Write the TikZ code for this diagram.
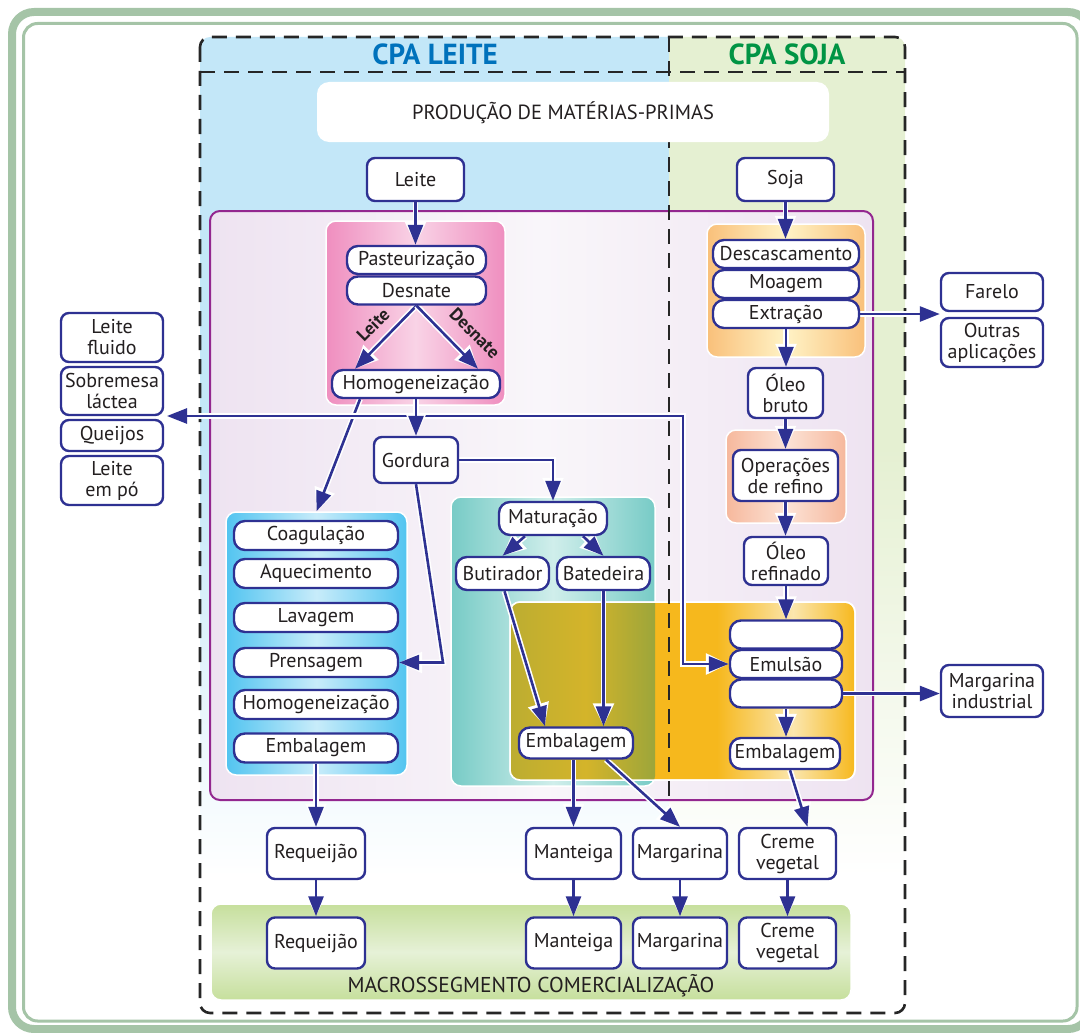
\documentclass[tikz,border=0pt]{standalone}
\usepackage{fontspec}
\setmainfont{PT Sans}
\usetikzlibrary{arrows.meta}

\definecolor{nblue}{HTML}{2E3192}
\definecolor{txt}{HTML}{231F20}
\definecolor{framecol}{HTML}{A5C4A7}
\definecolor{colblue}{HTML}{C3E7F8}
\definecolor{colgreen}{HTML}{E5F0D2}
\definecolor{purp}{HTML}{93278F}
\definecolor{purpE}{HTML}{EEE3F1}
\definecolor{purpC}{HTML}{F9F6FA}
\definecolor{cpablue}{HTML}{0072BC}
\definecolor{cpagreen}{HTML}{009444}
\definecolor{pinkE}{HTML}{EF8EBF}
\definecolor{pinkC}{HTML}{F9D3E6}
\definecolor{skyE}{HTML}{52C4F0}
\definecolor{skyC}{HTML}{C8ECFA}
\definecolor{tealE}{HTML}{77CBC6}
\definecolor{tealC}{HTML}{D0EEEB}
\definecolor{sojaE}{HTML}{F9C07A}
\definecolor{sojaC}{HTML}{FFF3C6}
\definecolor{salmE}{HTML}{F6B89C}
\definecolor{salmC}{HTML}{FCE3D7}
\definecolor{orgA}{HTML}{F6B81D}
\definecolor{orgL}{HTML}{FBE6AE}
\definecolor{oliveL}{HTML}{BCAD31}
\definecolor{oliveC}{HTML}{D4B42A}
\definecolor{oliveR}{HTML}{97A43C}
\definecolor{mktE}{HTML}{C6DF9C}
\definecolor{mktC}{HTML}{E6F1D7}

% column backgrounds: solid at the top, fading to white towards the bottom
\pgfdeclareverticalshading{bluefade}{100bp}{color(0bp)=(white); color(32bp)=(white); color(54bp)=(colblue); color(100bp)=(colblue)}
\pgfdeclareverticalshading{greenfade}{100bp}{color(0bp)=(white); color(32bp)=(white); color(54bp)=(colgreen); color(100bp)=(colgreen)}
% emulsion panel: orange, lighter around the emulsion column
\pgfdeclarehorizontalshading{emulfill}{100bp}{color(0bp)=(orgA); color(55bp)=(orgA); color(66bp)=(orgL); color(75bp)=(orgA); color(100bp)=(orgA)}

\pgfdeclarelayer{bg}
\pgfdeclarelayer{edges}
\pgfsetlayers{bg,edges,main}

\newcommand\bxfont{\fontsize{20}{21}\selectfont}

\tikzset{
  box/.style={draw=nblue, line width=2.4pt, fill=white, rounded corners=8pt, align=center, text=txt, inner sep=0pt, font=\bxfont},
  pill/.style={box, rounded corners=11pt},
  sz/.style 2 args={minimum width=#1pt, minimum height=#2pt},
  panel/.style={draw=white, line width=1.5pt, rounded corners=10pt, inner sep=0pt},
  tip/.tip={Triangle[length=20pt,width=15pt]},
  halo/.tip={Triangle[length=23pt,width=20pt]},
  conn/.style={draw=nblue, line width=2.6pt, -{tip}, preaction={draw=white, line width=5.8pt, -{halo}}},
  conntwo/.style={draw=nblue, line width=2.6pt, {tip}-{tip}, preaction={draw=white, line width=5.8pt, {halo}-{halo}}},
  lbl/.style={font=\fontsize{18}{18}\selectfont\bfseries, text=txt, inner sep=0pt},
  title/.style={font=\fontsize{29}{29}\selectfont\bfseries, inner sep=0pt},
  dashline/.style={draw=black!85, line width=2.6pt, dash pattern=on 15pt off 9pt}
}

\begin{document}
\begin{tikzpicture}[x=1pt,y=-1pt]
\useasboundingbox (0,0) rectangle (1080,1033);

\begin{pgfonlayer}{bg}
  % double frame
  \draw[framecol, line width=8pt, rounded corners=22pt] (12,12) rectangle (1090,1029);
  \draw[framecol, line width=3pt, rounded corners=14pt] (23.5,23.5) rectangle (1077,1021);

  % chain columns
  \shade[shading=bluefade] (435,37) [rounded corners=10pt] -- (200,37) -- (200,1013) -- (435,1013) [sharp corners] -- (669,1013) -- (669,37) -- cycle;
  \shade[shading=greenfade] (787,37) [rounded corners=10pt] -- (905,37) -- (905,1013) -- (787,1013) [sharp corners] -- (669,1013) -- (669,37) -- cycle;

  % industrial segment
  \node[draw=purp, line width=2pt, rounded corners=10pt, left color=purpE, right color=purpE, middle color=purpC, sz={663}{589}, inner sep=0pt] (indus) at (541.5,505.5) {};

  % process panels
  \node[panel, left color=pinkE, right color=pinkE, middle color=pinkC, sz={179}{184}] (pinkpanel) at (415.5,313) {};
  \node[panel, left color=skyE, right color=skyE, middle color=skyC, sz={181}{263}] (bluepanel) at (316.5,643.5) {};
  \node[panel, left color=tealE, right color=tealE, middle color=tealC, sz={204}{289}] (tealpanel) at (553,641.5) {};
  \node[panel, left color=sojaE, right color=sojaE, middle color=sojaC, sz={158}{133}] (sojapanel) at (786,290.5) {};
  \node[panel, left color=salmE, right color=salmE, middle color=salmC, sz={120}{93}] (salmpanel) at (786,476.5) {};
  \node[panel, shading=emulfill, sz={345}{178}] (orgpanel) at (682.5,691) {};
  \begin{scope}
    \clip[rounded corners=10pt] (451,497) rectangle (655,786);
    \shade[left color=oliveL, right color=oliveR, middle color=oliveC, rounded corners=10pt] (510,602) rectangle (662,780);
  \end{scope}
  \draw[white, line width=1.5pt, rounded corners=10pt] (510,602) rectangle (855,780);

  % trade segment
  \node[panel, top color=mktE, bottom color=mktE, middle color=mktC, sz={640}{96}] (mktpanel) at (531,952) {};

  % dashed chain outline
  \draw[dashline, rounded corners=10pt] (200,37) rectangle (905,1013);
  \draw[dashline] (200,72) -- (905,72);
  \draw[dashline] (669,37) -- (669,805);
\end{pgfonlayer}

% headings
\node[title, text=cpablue] (cpaleite) at (435,54) {CPA LEITE};
\node[title, text=cpagreen] (cpasoja) at (787,54) {CPA SOJA};
\node[fill=white, rounded corners=12pt, sz={512}{60}, inner sep=0pt] (prodbox) at (573,112) {};
\node[font=\fontsize{20.5}{20.5}\selectfont, text=txt, inner sep=0pt] (prodtxt) at (563,113) {PRODUÇÃO DE MATÉRIAS-PRIMAS};

% raw materials
\node[box, sz={97}{43}] (leite) at (415.5,179.5) {Leite};
\node[box, sz={97}{43}] (soja) at (785.5,179.5) {Soja};

% milk reception
\node[pill, sz={139}{28}] (past) at (416.5,260) {Pasteurização};
\node[pill, sz={139}{28}] (desn) at (416.5,290.5) {Desnate};
\node[pill, sz={168}{28}] (homoA) at (416,384) {Homogeneização};
\node[lbl, rotate=45] (lblleite) at (373,325) {Leite};
\node[lbl, rotate=-45] (lbldesn) at (475,333) {Desnate};

% dairy products
\node[box, sz={102}{49}] (lfluido) at (112,337.5) {Leite\\fluido};
\node[box, sz={102}{48}] (sobrem) at (112,391) {Sobremesa\\láctea};
\node[box, sz={102}{31}] (queijos) at (112,435.5) {Queijos};
\node[box, sz={102}{49}] (lpo) at (112,480.5) {Leite\\em pó};

\node[box, sz={84}{46}] (gordura) at (416,460) {Gordura};

% curd cheese line
\node[pill, sz={164}{29}] (coag) at (316,535.5) {Coagulação};
\node[pill, sz={164}{29}] (aquec) at (316,573.5) {Aquecimento};
\node[pill, sz={164}{29}] (lavag) at (316,617.5) {Lavagem};
\node[pill, sz={164}{29}] (prens) at (316,662.5) {Prensagem};
\node[pill, sz={164}{29}] (homoB) at (316,704.5) {Homogeneização};
\node[pill, sz={164}{29}] (embA) at (316,748) {Embalagem};

% butter line
\node[pill, sz={108}{33}] (matur) at (553,518.5) {Maturação};
\node[pill, sz={93}{33}] (butir) at (502.5,573.5) {Butirador};
\node[pill, sz={93}{33}] (bated) at (603.5,573.5) {Batedeira};
\node[pill, sz={114}{31}] (embB) at (576,743) {Embalagem};

% soybean line
\node[pill, sz={146}{28}] (desc) at (786,254) {Descascamento};
\node[pill, sz={146}{28}] (moag) at (786,284) {Moagem};
\node[pill, sz={146}{28}] (extr) at (786,314) {Extração};
\node[box, sz={102}{38}] (farelo) at (992,292) {Farelo};
\node[box, sz={102}{49}] (outras) at (992,342.5) {Outras\\aplicações};
\node[box, sz={75}{50}] (oleob) at (785.5,393) {Óleo\\bruto};
\node[box, sz={105}{51}] (oper) at (785.5,475.5) {Operações\\de refino};
\node[box, sz={84}{48}] (oleor) at (786,561) {Óleo\\refinado};

% emulsion
\node[pill, sz={112}{28}] (emtop) at (786,634.5) {};
\node[pill, sz={112}{28}] (emuls) at (786,664) {Emulsão};
\node[pill, sz={112}{28}] (embot) at (786,693.5) {};
\node[pill, sz={110}{31}] (embC) at (785,753.5) {Embalagem};
\node[box, sz={102}{52}] (margind) at (992,691) {Margarina\\industrial};

% final products
\node[box, sz={98}{51}] (reqA) at (316,853.5) {Requeijão};
\node[box, sz={95}{51}] (mantA) at (573.5,853.5) {Manteiga};
\node[box, sz={94}{51}] (margA) at (680,853.5) {Margarina};
\node[box, sz={97}{51}] (cremeA) at (787.5,853.5) {Creme\\vegetal};
\node[box, sz={98}{51}] (reqB) at (316,943) {Requeijão};
\node[box, sz={95}{51}] (mantB) at (573.5,943) {Manteiga};
\node[box, sz={94}{51}] (margB) at (680,943) {Margarina};
\node[box, sz={97}{51}] (cremeB) at (787.5,943) {Creme\\vegetal};
\node[font=\fontsize{21.5}{21.5}\selectfont, text=txt, inner sep=0pt] (mkttxt) at (531,986) {MACROSSEGMENTO COMERCIALIZAÇÃO};

\coordinate (dairy) at (167,416);
\coordinate (milkbend) at (683,416);
\coordinate (gbend) at (443,662.5);

\begin{pgfonlayer}{edges}
  \draw[conn] (leite.south) -- (leite.south |- past.north);
  \draw[conn] (soja.south) -- (soja.south |- desc.north);
  \draw[conn] (desn.south) -- ([xshift=-61pt]homoA.north);
  \draw[conn] (desn.south) -- ([xshift=62pt]homoA.north);
  \draw[conn] ([xshift=-56pt]homoA.south) -- (bluepanel.north);
  \draw[conntwo] (dairy) -- (milkbend) |- (emuls.west);
  \draw[conn] (homoA.south) -- (gordura.north);
  \draw[conn] (gordura.east) -| (matur.north);
  \draw[conn] (gordura.south) -- (gbend) -- (prens.east);
  \draw[conn] ([xshift=-28pt]matur.south) -- (butir.north);
  \draw[conn] ([xshift=30pt]matur.south) -- (bated.north);
  \draw[conn] ([xshift=2pt]butir.south) -- ([xshift=-31pt]embB.north);
  \draw[conn] (bated.south) -- (bated.south |- embB.north);
  \draw[conn] (embA.south) -- (embA.south |- reqA.north);
  \draw[conn] (mantA.north |- embB.south) -- (mantA.north);
  \draw[conn] ([xshift=30pt]embB.south) -- (margA.north);
  \draw[conn] ([xshift=5pt]embC.south) -- ([xshift=20pt]cremeA.north);
  \draw[conn] (reqA.south) -- (reqB.north);
  \draw[conn] (mantA.south) -- (mantB.north);
  \draw[conn] (margA.south) -- (margB.north);
  \draw[conn] (cremeA.south) -- (cremeB.north);
  \draw[conn] (extr.east) -- (extr.east -| farelo.west);
  \draw[conn] (extr.south) -- (extr.south |- oleob.north);
  \draw[conn] (oleob.south) -- (oleob.south |- oper.north);
  \draw[conn] (oper.south) -- (oper.south |- oleor.north);
  \draw[conn] (oleor.south) -- (oleor.south |- emtop.north);
  \draw[conn] (embot.south) -- (embot.south |- embC.north);
  \draw[conn] (embot.east) -- (embot.east -| margind.west);
\end{pgfonlayer}
\end{tikzpicture}
\end{document}
